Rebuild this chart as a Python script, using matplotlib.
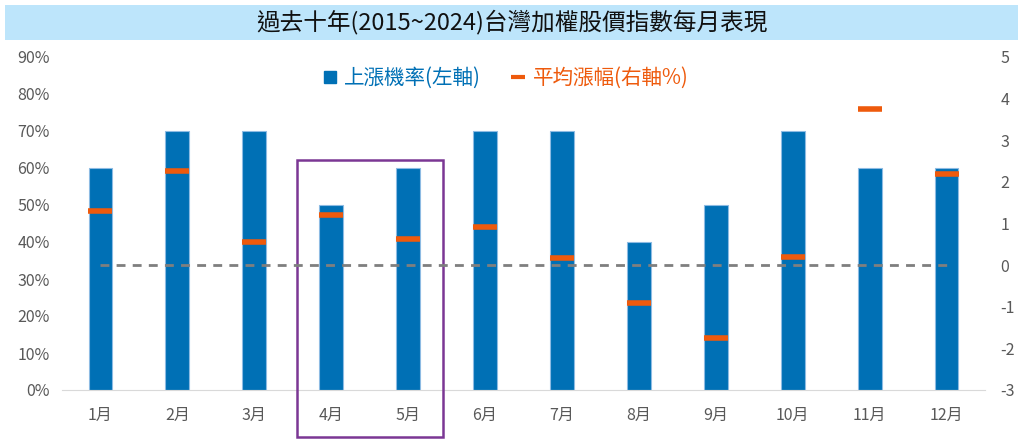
import matplotlib.pyplot as plt
from matplotlib.patches import Rectangle
from matplotlib.lines import Line2D
import numpy as np

plt.rcParams['font.family'] = ['Noto Sans CJK TC', 'DejaVu Sans']
plt.rcParams['axes.unicode_minus'] = False

# Data
months = ['1月', '2月', '3月', '4月', '5月', '6月', '7月', '8月', '9月', '10月', '11月', '12月']
up_prob = [60, 70, 70, 50, 60, 70, 70, 40, 50, 70, 60, 60]
avg_gain = [1.31, 2.26, 0.55, 1.21, 0.63, 0.92, 0.18, -0.90, -1.76, 0.19, 3.75, 2.18]

blue = '#0070B5'
orange = '#EE5A0C'
grey = '#595959'

fig = plt.figure(figsize=(10.24, 4.46), dpi=100)
ax = fig.add_axes([62 / 1024, 1 - 390 / 446, 923 / 1024, 333 / 446])
ax2 = ax.twinx()

x = np.arange(len(months))
ax.bar(x, up_prob, width=0.31, color=blue, edgecolor='#8DBBE3', linewidth=0.8, zorder=2)
ax.set_xlim(-0.5, 11.5)
ax.set_ylim(0, 90)
ax.set_yticks(range(0, 91, 10))
ax.set_yticklabels([f'{v}%' for v in range(0, 91, 10)])
ax.set_xticks(x)
ax.set_xticklabels(months)

ax2.set_ylim(-3, 5)
ax2.set_yticks(range(-3, 6))
ax2.plot([x[0], x[-1]], [0, 0], color='#7F7F7F', linestyle=(0, (3.2, 2.6)), linewidth=2, zorder=3)
ax2.plot(x, avg_gain, linestyle='none', marker='_', markersize=17, markeredgewidth=4,
         color=orange, zorder=4)

for a in (ax, ax2):
    for s in a.spines.values():
        s.set_visible(False)
    a.tick_params(length=0, colors=grey, labelsize=11.5)
ax.spines['bottom'].set_visible(True)
ax.spines['bottom'].set_color('#D9D9D9')
ax.tick_params(axis='x', pad=12, labelsize=11.5)
ax.tick_params(axis='y', pad=9)
ax2.tick_params(axis='y', pad=11)

# highlight box for Apr-May
ax.add_patch(Rectangle((2.56, -12.7), 1.89, 74.9, fill=False, edgecolor='#7B3794',
                       linewidth=1.8, clip_on=False, zorder=5))

# title band
fig.patches.append(Rectangle((5 / 1024, 1 - 40 / 446), 1013 / 1024, 35 / 446,
                             transform=fig.transFigure, facecolor='#BDE5FB',
                             edgecolor='none', zorder=0))
fig.text(0.5, 1 - 22 / 446, '過去十年(2015~2024)台灣加權股價指數每月表現', ha='center', va='center',
         fontsize=17, fontweight='medium', color='#111111')

# legend
handles = [Line2D([], [], linestyle='none', marker='s', markersize=8, color=blue),
           Line2D([], [], linestyle='none', marker='_', markersize=10, markeredgewidth=3, color=orange)]
leg = ax.legend(handles, ['上漲機率(左軸)', '平均漲幅(右軸%)'], loc='upper center',
                bbox_to_anchor=(0.479, 1.025), ncol=2, frameon=False, fontsize=14.8,
                handletextpad=0.2, columnspacing=1.3, handlelength=1)
for t, c in zip(leg.get_texts(), [blue, orange]):
    t.set_color(c)

plt.savefig('out.png', dpi=100)
